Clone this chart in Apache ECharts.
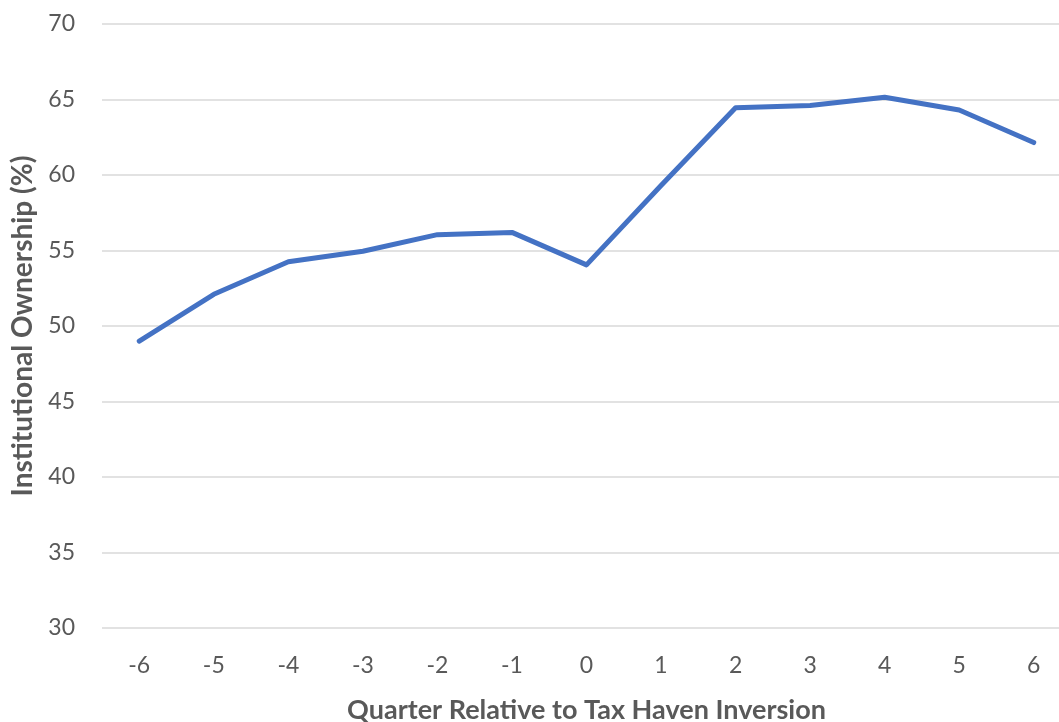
<!DOCTYPE html>
<html>
<head>
<meta charset="utf-8">
<script src="https://cdn.jsdelivr.net/npm/echarts@6/dist/echarts.min.js"></script>
<style>
  html, body { margin: 0; padding: 0; background: #ffffff; }
  #chart { width: 1059px; height: 722px; }
</style>
</head>
<body>
<div id="chart"></div>
<script>
// Quarters relative to the inversion event
const quarters = ['-6', '-5', '-4', '-3', '-2', '-1', '0', '1', '2', '3', '4', '5', '6'];
// Institutional ownership (%) per quarter
const ownership = [49.0, 52.1, 54.25, 54.95, 56.05, 56.2, 54.05, 59.3, 64.45, 64.6, 65.15, 64.3, 62.15];

const xTitle = 'Quarter Relative to Tax Haven Inversion';
const yTitle = 'Institutional Ownership (%)';

const textColor = '#595959';
const fontFamily = 'Lato, "Open Sans", sans-serif';

const chart = echarts.init(document.getElementById('chart'));
chart.setOption({
  animation: false,
  // plot area runs slightly past the right edge of the canvas
  grid: { left: 102, right: -12, top: 24, bottom: 94, containLabel: false, outerBoundsMode: 'none' },
  xAxis: {
    type: 'category',
    data: quarters,
    boundaryGap: true,
    axisLine: { show: false },
    axisTick: { show: false },
    axisLabel: { color: textColor, fontSize: 23, fontFamily: fontFamily, margin: 26 },
    name: xTitle,
    nameLocation: 'middle',
    nameGap: 69,
    nameTextStyle: { color: textColor, fontSize: 27, fontWeight: 'bold', fontFamily: fontFamily }
  },
  yAxis: {
    type: 'value',
    min: 30,
    max: 70,
    interval: 5,
    axisLine: { show: false },
    axisTick: { show: false },
    axisLabel: { color: textColor, fontSize: 23, fontFamily: fontFamily, margin: 27 },
    splitLine: { lineStyle: { color: '#d9d9d9', width: 1.5 } },
    name: yTitle,
    nameLocation: 'middle',
    nameGap: 64,
    nameTextStyle: { color: textColor, fontSize: 28, fontWeight: 'bold', fontFamily: fontFamily }
  },
  series: [{
    type: 'line',
    data: ownership,
    showSymbol: false,
    symbol: 'none',
    lineStyle: { color: '#4472C4', width: 5, cap: 'round', join: 'round' }
  }]
});
</script>
</body>
</html>
